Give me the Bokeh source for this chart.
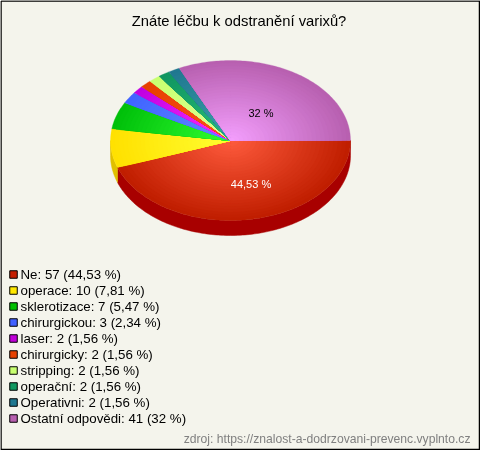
import math
from bokeh.plotting import figure
from bokeh.core.properties import value
from bokeh.embed import file_html
from bokeh.resources import INLINE

title_text = "Znáte léčbu k odstranění varixů?"
source_text = "zdroj: https://znalost-a-dodrzovani-prevenc.vyplnto.cz"
categories = ["Ne", "operace", "sklerotizace", "chirurgickou", "laser", "chirurgicky",
              "stripping", "operační", "Operativni", "Ostatní odpovědi"]
counts = [57, 10, 7, 3, 2, 2, 2, 2, 2, 41]
percent_labels = ["44,53", "7,81", "5,47", "2,34", "1,56", "1,56", "1,56", "1,56", "1,56", "32"]

edge_colors = [(192, 30, 0), (255, 225, 0), (0, 192, 10), (64, 100, 255), (192, 0, 224),
               (230, 64, 0), (200, 255, 112), (16, 150, 96), (32, 120, 144), (184, 96, 176)]
center_colors = [(255, 92, 62), (255, 255, 50), (50, 255, 50), (100, 140, 255), (255, 50, 255),
                 (255, 80, 30), (225, 255, 150), (40, 190, 120), (60, 160, 170), (245, 160, 255)]
swatch_colors = ["#c41e00", "#ffe800", "#00c000", "#4060ff", "#c000d8",
                 "#e64000", "#c8ff70", "#109860", "#207890", "#b860b0"]
side_colors = ["#a80000", "#e0c000"]

BG = "#f4f4ec"
CX, CY, RX, RY, DEPTH = 230, 140, 120, 80, 15
RINGS = 28

p = figure(width=480, height=450, x_range=(0, 480), y_range=(450, 0),
           output_backend="svg", toolbar_location=None, min_border=0,
           background_fill_color=BG, border_fill_color=BG, outline_line_color=None)
p.axis.visible = False
p.grid.visible = False
p.styles = {"position": "fixed", "left": "0px", "top": "0px"}

total = sum(counts)
bounds = [0.0]
for c in counts:
    bounds.append(bounds[-1] + c / total * 2 * math.pi)


def pt(a, s=1.0, dy=0.0):
    return CX + RX * s * math.cos(a), CY + RY * s * math.sin(a) + dy


def arc(a0, a1, s=1.0, dy=0.0):
    n = max(2, int((a1 - a0) / 0.02))
    return [pt(a0 + (a1 - a0) * i / n, s, dy) for i in range(n + 1)]


# side wall: only the front half of the pie is visible
for i, col in enumerate(side_colors):
    a0, a1 = bounds[i], min(bounds[i + 1], math.pi)
    top = arc(a0, a1)
    bottom = arc(a0, a1, dy=DEPTH)[::-1]
    poly = top + bottom
    p.patch([q[0] for q in poly], [q[1] for q in poly], fill_color=col, line_color=col, line_width=0.5)

# top face: nested wedges emulate the radial gradient
for i in range(len(counts)):
    a0, a1 = bounds[i], bounds[i + 1]
    xs, ys, cols = [], [], []
    for k in range(RINGS, 0, -1):
        s = k / RINGS
        poly = [(CX, CY)] + arc(a0, a1, s)
        xs.append([q[0] for q in poly])
        ys.append([q[1] for q in poly])
        e, c = edge_colors[i], center_colors[i]
        cols.append("#%02x%02x%02x" % tuple(round(c[j] + (e[j] - c[j]) * s) for j in range(3)))
    p.patches(xs, ys, fill_color=cols, line_color=cols, line_width=0.3)

FONT = value("Liberation Sans")

# slice labels
p.text([250.5], [183], text=[percent_labels[0] + " %"], text_color="#ffffff", text_font=FONT,
       text_font_size="11px", text_align="center", text_baseline="middle")
p.text([260.5], [112], text=[percent_labels[-1] + " %"], text_color="#000000", text_font=FONT,
       text_font_size="11px", text_align="center", text_baseline="middle")

# title
p.text([238.5], [20], text=[title_text], text_color="#000000", text_font=FONT,
       text_font_size="14.8px", text_align="center", text_baseline="middle")

# legend
ys = [274 + 16 * i for i in range(len(categories))]
p.rect([13] * len(ys), ys, width=7.5, height=7.5, fill_color=swatch_colors, line_color="#000000", line_width=1)
labels = [f"{n}: {c} ({q} %)" for n, c, q in zip(categories, counts, percent_labels)]
p.text([20] * len(ys), ys, text=labels, text_color="#000000", text_font=FONT,
       text_font_size="13.3px", text_align="left", text_baseline="middle")

# source
p.text([470], [438.5], text=[source_text], text_color="#808080", text_font=FONT,
       text_font_size="12.15px", text_align="right", text_baseline="middle")

# frame
p.line([0.5, 479, 479, 0.5, 0.5], [0.5, 0.5, 449, 449, 0.5], line_color="#000000", line_width=1.5,
       line_join="miter")

open("out.html", "w").write(file_html(p, INLINE))
